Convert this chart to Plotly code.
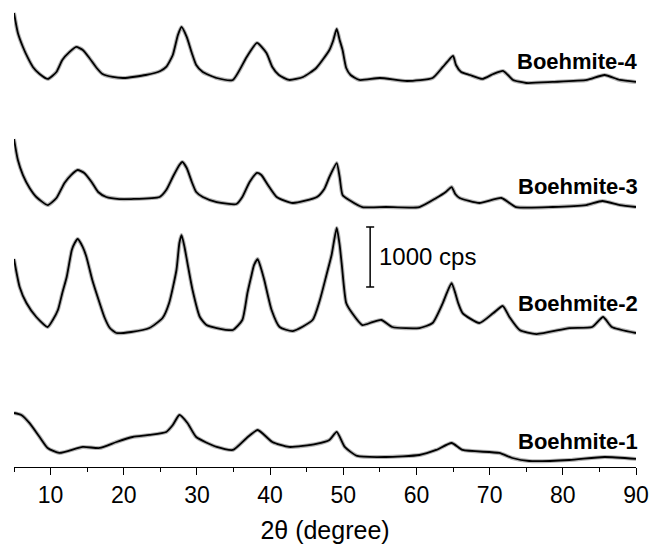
import plotly.graph_objects as go

# ---- data (2theta in degree, intensity in cps above each trace's baseline) ----
b4_x = [5.0, 5.53, 6.22, 6.9, 7.58, 8.5, 9.63, 10.8, 11.6, 12.6, 13.5, 14.4, 15.3, 16.3, 17.1, 18.5, 20.0,
        23.0, 25.0, 25.8, 26.7, 27.4, 27.9, 28.6, 29.3, 29.9, 30.8, 32.7, 34.9, 36.8, 38.2, 39.5, 40.3,
        41.2, 42.6, 44.5, 46.3, 48.1, 48.6, 49.1, 49.5, 49.9, 50.4, 51.0, 52.2, 55.0, 58.7, 62.2, 63.6,
        64.2, 65.0, 65.4, 66.1, 67.3, 69.0, 70.5, 71.8, 72.5, 73.2, 75.0, 78.6, 83.3, 85.7, 87.8, 90.0]
b4_y = [1217, 883, 650, 467, 317, 200, 117, 233, 433, 567, 650, 600, 467, 300, 200, 150, 133,
        183, 250, 317, 517, 850, 983, 817, 550, 350, 233, 133, 100, 483, 717, 550, 317,
        183, 100, 150, 300, 600, 750, 950, 767, 600, 300, 183, 100, 133, 83, 133, 317,
        400, 500, 350, 233, 183, 117, 200, 250, 183, 100, 50, 67, 100, 183, 100, 67]

b3_x = [5.0, 5.53, 6.22, 7.13, 8.05, 9.6, 10.8, 11.9, 12.8, 13.7, 14.6, 15.6, 16.5, 17.6, 19.4, 21.0,
        24.9, 25.8, 26.7, 27.6, 28.0, 28.6, 29.3, 29.9, 30.8, 32.7, 35.4, 36.2, 37.2, 38.2, 38.8, 39.7,
        40.9, 43.1, 46.4, 47.4, 48.1, 49.1, 49.5, 49.9, 50.8, 52.6, 55.8, 60.4, 62.7, 64.0, 64.8, 65.3,
        65.9, 68.6, 71.6, 73.6, 78.6, 83.2, 85.4, 87.8, 90.0]
b3_y = [1183, 833, 583, 367, 217, 83, 200, 450, 583, 667, 617, 467, 300, 217, 183, 183,
        217, 333, 550, 750, 800, 700, 467, 300, 217, 133, 100, 217, 467, 617, 583, 417,
        217, 117, 217, 350, 550, 783, 550, 250, 167, 50, 50, 50, 200, 300, 383, 267,
        200, 117, 200, 50, 50, 83, 150, 83, 50]

b2_x = [5.0, 5.77, 6.7, 8.05, 9.6, 10.3, 11.0, 11.6, 12.2, 12.9, 13.3, 13.7, 14.4, 14.9, 15.7, 16.7,
        17.4, 18.1, 19.0, 21.0, 23.5, 25.3, 26.2, 27.2, 27.6, 27.9, 28.3, 28.7, 29.4, 30.4, 31.3, 32.7,
        34.9, 36.2, 36.9, 37.4, 37.8, 38.3, 38.7, 39.2, 40.2, 41.3, 43.1, 45.8, 46.8, 47.7, 48.4, 49.1,
        49.5, 49.8, 50.4, 51.2, 52.6, 54.0, 55.2, 56.7, 60.4, 62.2, 63.6, 64.2, 64.8, 65.3, 65.7, 66.3,
        68.6, 70.5, 71.8, 72.7, 74.1, 76.4, 80.9, 84.0, 85.5, 86.7, 90.0]
b2_y = [1283, 817, 550, 317, 150, 267, 433, 717, 983, 1433, 1550, 1617, 1483, 1317, 933, 550,
        300, 133, 50, 67, 133, 300, 550, 1100, 1550, 1683, 1483, 1217, 767, 317, 183, 133,
        100, 267, 717, 983, 1183, 1283, 1150, 933, 433, 150, 83, 267, 600, 1017, 1350, 1800,
        1517, 1183, 550, 383, 183, 233, 267, 150, 133, 217, 550, 733, 883, 717, 550, 383,
        217, 383, 500, 317, 100, 33, 133, 150, 317, 150, 50]

b1_x = [5.0, 6.0, 7.1, 8.5, 9.6, 11.2, 14.4, 16.7, 19.0, 21.2, 23.5, 25.8, 26.7, 27.6, 28.7, 29.9,
        32.7, 34.9, 36.8, 38.3, 40.3, 42.6, 46.3, 48.1, 49.1, 50.2, 51.9, 55.8, 60.4, 62.7, 64.8, 66.3,
        71.3, 73.1, 75.4, 80.9, 85.7, 90.0]
b1_y = [833, 800, 667, 433, 250, 167, 267, 250, 350, 433, 467, 517, 633, 800, 667, 433,
        267, 217, 417, 550, 350, 267, 317, 383, 517, 267, 117, 100, 133, 217, 333, 217,
        167, 83, 33, 50, 100, 67]

names = ["Boehmite-1", "Boehmite-2", "Boehmite-3", "Boehmite-4"]
offsets = [67, 2183, 4283, 6350]          # vertical stacking offsets (cps)
label_y = [433, 2717, 4667, 6750]         # label heights (cps)

x_ticks = [10, 20, 30, 40, 50, 60, 70, 80, 90]
scale_bar_x = 53.67
scale_bar_y = [3000, 4000]

series = [(b1_x, b1_y), (b2_x, b2_y), (b3_x, b3_y), (b4_x, b4_y)]

FONT = "Liberation Sans, Arial, sans-serif"

fig = go.Figure()
for (xs, ys), off, nm in zip(series, offsets, names):
    yy = [v + off for v in ys]
    # soft halo to mimic the noisy band of the measured pattern
    fig.add_trace(go.Scatter(x=xs, y=yy, mode="lines", name=nm, showlegend=False,
                             line=dict(color="rgba(0,0,0,0.3)", width=4, shape="spline", smoothing=0.55),
                             hoverinfo="skip"))
    fig.add_trace(go.Scatter(x=xs, y=yy, mode="lines", name=nm, showlegend=False,
                             line=dict(color="black", width=1.8, shape="spline", smoothing=0.55)))

for nm, ly in zip(names, label_y):
    fig.add_annotation(x=1.006, y=ly, xref="paper", yref="y", text="<b>%s</b>" % nm, showarrow=False,
                       xanchor="right", yanchor="middle", font=dict(family=FONT, size=22, color="black"))

# scale bar
fig.add_shape(type="line", x0=scale_bar_x, x1=scale_bar_x, y0=scale_bar_y[0], y1=scale_bar_y[1],
              xref="x", yref="y", line=dict(color="black", width=1.5))
for yv in scale_bar_y:
    fig.add_shape(type="line", x0=scale_bar_x - 0.55, x1=scale_bar_x + 0.55, y0=yv, y1=yv,
                  xref="x", yref="y", line=dict(color="black", width=1.5))
fig.add_annotation(x=scale_bar_x + 1.0, y=sum(scale_bar_y) / 2, xref="x", yref="y", text="1000 cps",
                   showarrow=False, xanchor="left", yanchor="middle",
                   font=dict(family=FONT, size=24, color="black"))

fig.update_xaxes(range=[5, 90], tickvals=x_ticks, ticktext=[str(t) for t in x_ticks],
                 showline=True, linecolor="black", linewidth=1.3, ticks="outside", ticklen=7,
                 tickwidth=1.3, tickcolor="black", showgrid=False, zeroline=False,
                 tickfont=dict(family=FONT, size=23, color="black"),
                 minor=dict(tick0=5, dtick=10, ticks="outside", ticklen=4, tickwidth=1.3, tickcolor="black",
                            showgrid=False),
                 title=dict(text="2θ (degree)", font=dict(family=FONT, size=25, color="black"), standoff=14))
fig.update_yaxes(range=[0, 7783], visible=False, showgrid=False, zeroline=False)

fig.update_layout(width=650, height=547, margin=dict(l=14, r=14, t=0, b=80),
                  plot_bgcolor="white", paper_bgcolor="white", showlegend=False)

fig.write_html("out.html")
